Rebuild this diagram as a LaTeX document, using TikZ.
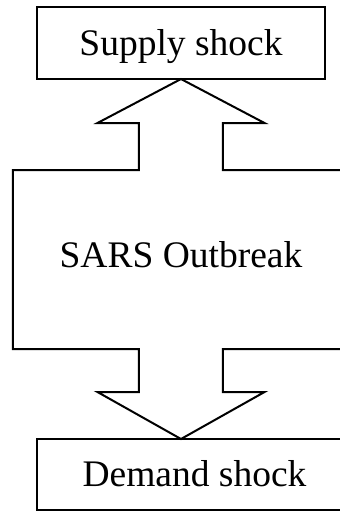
\documentclass[tikz,border=0pt]{standalone}
\usepackage{fontspec}
\setmainfont{Liberation Serif}
\usetikzlibrary{calc}
\begin{document}
\begin{tikzpicture}[x=0.5pt,y=-0.5pt,
  labeltext/.style={font=\fontsize{18.75}{22}\selectfont, inner sep=0pt, outer sep=0pt, align=center},
  shockbox/.style={labeltext, draw, line width=1pt, text height=24pt, text depth=12pt},
  outline/.style={draw, line width=1pt, line join=miter}]
\useasboundingbox (0,0) rectangle (340,511);
\clip (0,0) rectangle (340,511);

% the two shock boxes and the central block
\node[shockbox, minimum width=144pt, anchor=north] (supply) at (181,7) {Supply shock};
\node[labeltext, minimum width=168pt, text height=48.5pt, text depth=41pt,
      anchor=north west] (sars) at (13,170) {SARS Outbreak};
\node[shockbox, minimum width=157.5pt, text height=23.5pt, anchor=north west]
      (demand) at (37,439) {Demand shock};

% tips of the two block arrows
\coordinate (uptip) at (supply.south);
\coordinate (downtip) at (supply.south |- demand.north);

% central block with a block arrow leaving upwards and one downwards
\draw[outline]
  (sars.north west)
  -- ($(uptip)+(-42,91)$) -- ($(uptip)+(-42,44)$) -- ($(uptip)+(-83.5,44)$)
  -- (uptip)
  -- ($(uptip)+(83.5,44)$) -- ($(uptip)+(42,44)$) -- ($(uptip)+(42,91)$)
  -- (sars.north east) -- (sars.south east)
  -- ($(downtip)+(42,-90)$) -- ($(downtip)+(42,-47)$) -- ($(downtip)+(83.5,-47)$)
  -- (downtip)
  -- ($(downtip)+(-83.5,-47)$) -- ($(downtip)+(-42,-47)$) -- ($(downtip)+(-42,-90)$)
  -- (sars.south west) -- cycle;
\end{tikzpicture}
\end{document}
